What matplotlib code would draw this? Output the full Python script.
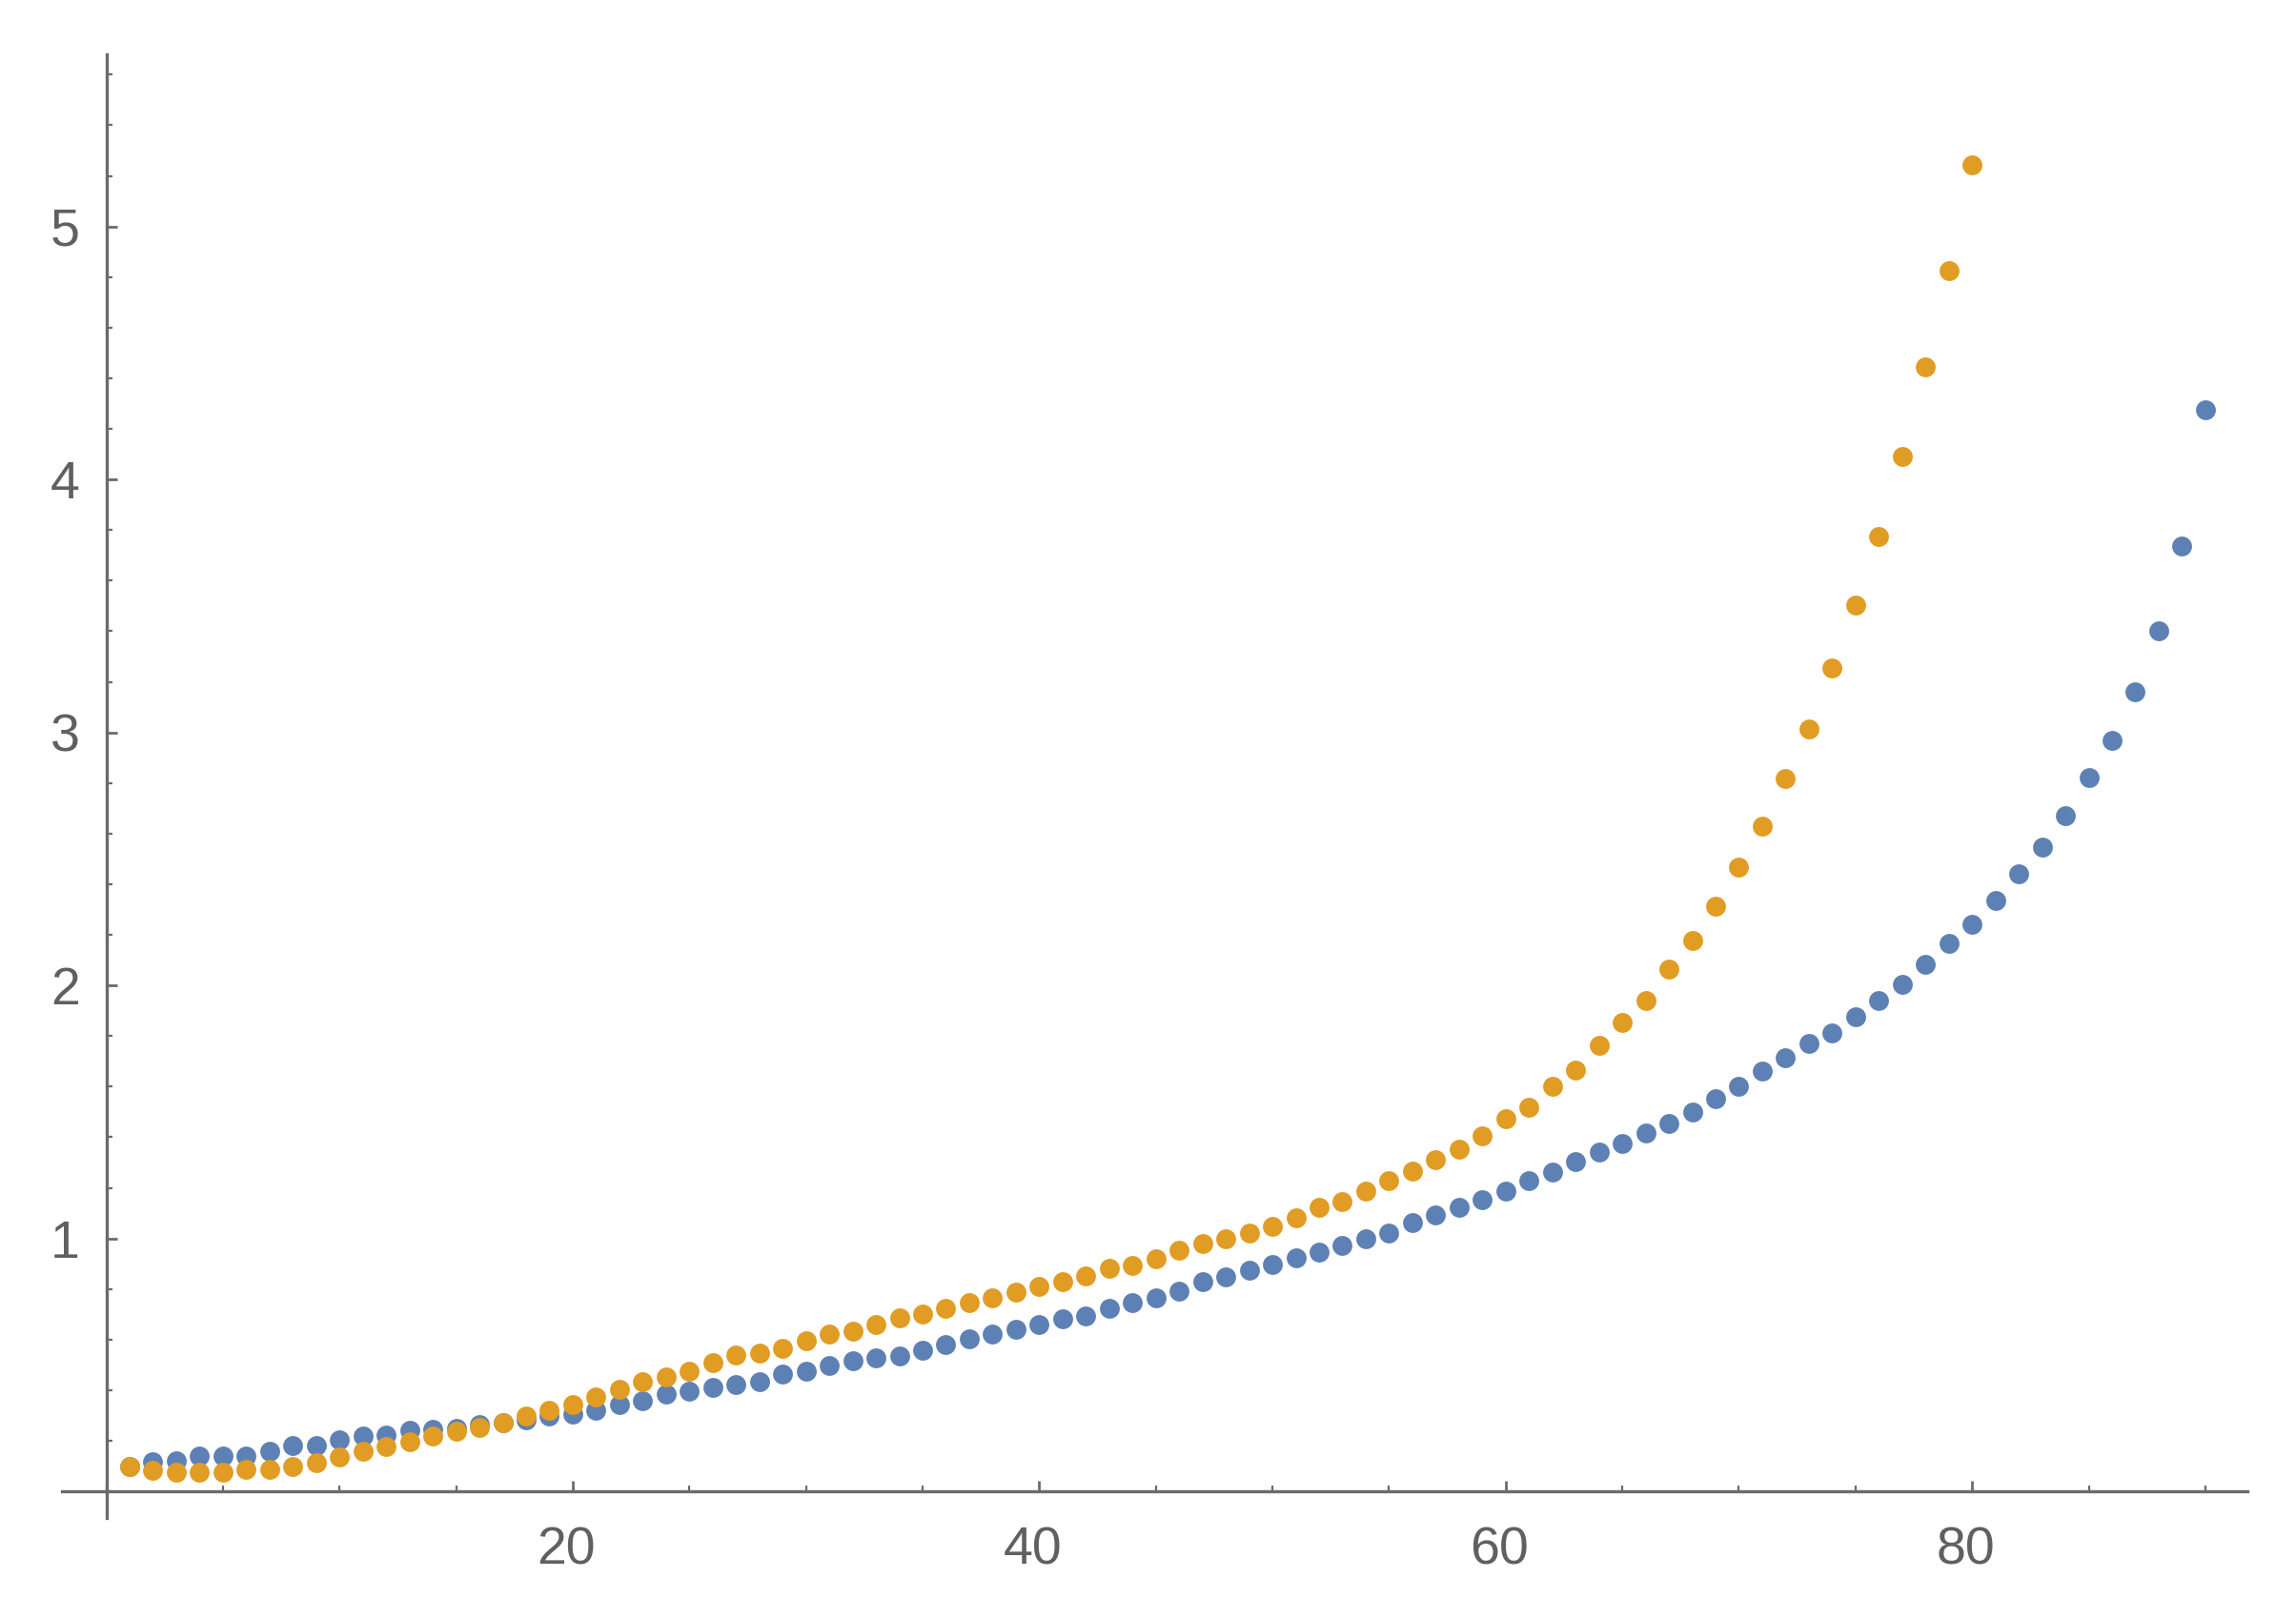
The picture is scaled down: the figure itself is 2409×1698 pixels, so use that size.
import matplotlib
matplotlib.use("Agg")
import matplotlib.pyplot as plt
import matplotlib.transforms as mtransforms
from matplotlib.ticker import MultipleLocator

# values, index n = 1, 2, 3, ...
blue_vals = [
    0.100, 0.119, 0.120, 0.140, 0.140, 0.141, 0.159, 0.180, 0.182, 0.203,
    0.220, 0.222, 0.243, 0.245, 0.248, 0.266, 0.272, 0.285, 0.298, 0.305,
    0.320, 0.345, 0.360, 0.383, 0.395, 0.411, 0.423, 0.433, 0.465, 0.477,
    0.496, 0.517, 0.527, 0.536, 0.559, 0.580, 0.603, 0.621, 0.640, 0.659,
    0.684, 0.693, 0.724, 0.747, 0.766, 0.791, 0.828, 0.847, 0.873, 0.898,
    0.923, 0.945, 0.973, 0.998, 1.023, 1.061, 1.092, 1.124, 1.155, 1.186,
    1.230, 1.262, 1.302, 1.340, 1.375, 1.415, 1.456, 1.500, 1.551, 1.600,
    1.660, 1.715, 1.770, 1.814, 1.877, 1.940, 2.003, 2.084, 2.168, 2.241,
    2.335, 2.440, 2.545, 2.670, 2.820, 2.970, 3.160, 3.400, 3.735, 4.277,
]
orange_vals = [
    0.100, 0.082, 0.075, 0.075, 0.075, 0.088, 0.088, 0.100, 0.113, 0.138,
    0.157, 0.176, 0.195, 0.220, 0.238, 0.254, 0.272, 0.298, 0.320, 0.345,
    0.373, 0.402, 0.433, 0.452, 0.477, 0.508, 0.540, 0.548, 0.565, 0.596,
    0.621, 0.634, 0.659, 0.687, 0.703, 0.724, 0.747, 0.766, 0.787, 0.810,
    0.829, 0.850, 0.882, 0.894, 0.920, 0.954, 0.979, 0.998, 1.023, 1.048,
    1.080, 1.124, 1.145, 1.186, 1.227, 1.268, 1.312, 1.352, 1.406, 1.475,
    1.519, 1.603, 1.666, 1.762, 1.852, 1.940, 2.065, 2.178, 2.315, 2.467,
    2.630, 2.816, 3.014, 3.254, 3.505, 3.775, 4.089, 4.444, 4.824, 5.242,
]
blue_x = list(range(1, len(blue_vals) + 1))
orange_x = list(range(1, len(orange_vals) + 1))

x_ticks = [20, 40, 60, 80]
y_ticks = [1, 2, 3, 4, 5]

blue = "#5E81B5"
orange = "#E19C24"
axis_gray = "#6b6b6b"

fig = plt.figure(figsize=(24.09, 16.98), dpi=100)
ax = fig.add_axes([0.0268, 0.0618, 0.952, 0.9046])

ax.plot(blue_x, blue_vals, "o", color=blue, markersize=15, markeredgewidth=0)
ax.plot(orange_x, orange_vals, "o", color=orange, markersize=15, markeredgewidth=0)

ax.set_xlim(-1.92, 91.8)
ax.set_ylim(-0.105, 5.68)

for side in ["top", "right"]:
    ax.spines[side].set_visible(False)
ax.spines["left"].set_position(("data", 0))
ax.spines["bottom"].set_position(("data", 0))
for side in ["left", "bottom"]:
    ax.spines[side].set_color(axis_gray)
    ax.spines[side].set_linewidth(2.4)

ax.set_xticks(x_ticks)
ax.set_yticks(y_ticks)
ax.xaxis.set_minor_locator(MultipleLocator(5))
ax.yaxis.set_minor_locator(MultipleLocator(0.2))

ax.tick_params(axis="both", which="major", direction="in", length=8, width=2,
               color=axis_gray, labelcolor="#606060", labelsize=40)
ax.tick_params(axis="both", which="minor", direction="in", length=4.5, width=1.6,
               color=axis_gray)
ax.tick_params(axis="x", which="major", pad=26)
ax.tick_params(axis="y", which="major", pad=20)

# mathematica puts the x labels a touch left of their ticks
shift = mtransforms.ScaledTranslation(-7 / 100, 0, fig.dpi_scale_trans)
for lab in ax.get_xticklabels():
    lab.set_transform(lab.get_transform() + shift)
for lab in ax.get_xticklabels() + ax.get_yticklabels():
    lab.set_fontfamily("Liberation Sans")

ax.set_facecolor("white")
fig.savefig("out.png", dpi=100, facecolor="white")
